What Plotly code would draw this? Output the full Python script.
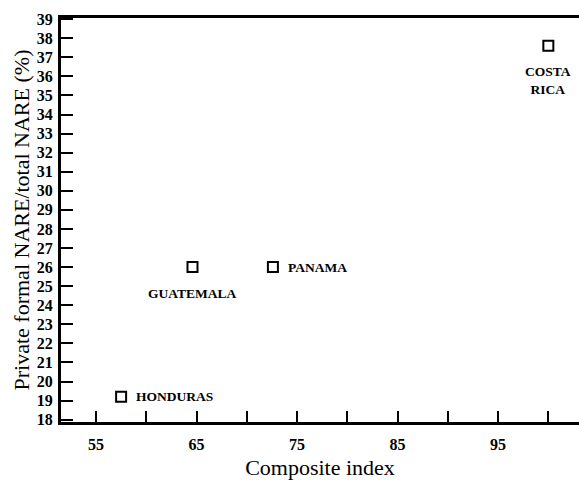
import plotly.graph_objects as go

countries = ["HONDURAS", "GUATEMALA", "PANAMA", "COSTA<br>RICA"]
composite_index = [57.5, 64.6, 72.6, 100.0]
private_share = [19.2, 26.0, 26.0, 37.6]

x_tickvals = [55, 60, 65, 70, 75, 80, 85, 90, 95, 100]
x_ticktext = ["55", "", "65", "", "75", "", "85", "", "95", ""]
y_tickvals = list(range(18, 40))
y_ticktext = [str(v) for v in y_tickvals]

label_style = {
    "HONDURAS": dict(xanchor="left", yanchor="middle", xshift=13, yshift=0),
    "GUATEMALA": dict(xanchor="center", yanchor="middle", xshift=0, yshift=-26),
    "PANAMA": dict(xanchor="left", yanchor="middle", xshift=13, yshift=0),
    "COSTA<br>RICA": dict(xanchor="center", yanchor="middle", xshift=0, yshift=-35),
}

FONT = "'Liberation Serif', 'Times New Roman', Times, serif"

fig = go.Figure()
fig.add_trace(go.Scatter(
    x=composite_index, y=private_share, mode="markers",
    marker=dict(symbol="square-open", size=10, color="black", line=dict(width=2, color="black")),
    showlegend=False, hoverinfo="skip",
))

for c, xv, yv in zip(countries, composite_index, private_share):
    fig.add_annotation(x=xv, y=yv, text=c, showarrow=False,
                       font=dict(family=FONT, size=13.5, color="black", weight="bold"),
                       **label_style[c])

fig.update_layout(
    width=579, height=480,
    margin=dict(l=61, r=0, t=18, b=58),
    paper_bgcolor="white", plot_bgcolor="white",
    font=dict(family=FONT, color="black"),
    xaxis=dict(
        range=[51.52, 103.05], tickvals=x_tickvals, ticktext=x_ticktext,
        ticks="inside", ticklen=11, tickwidth=2, tickcolor="black",
        showline=True, linewidth=3, linecolor="black", mirror=True,
        showgrid=False, zeroline=False,
        tickfont=dict(family=FONT, size=16, color="black", weight="bold"),
        ticklabelstandoff=6,
        title=dict(text="Composite index", font=dict(family=FONT, size=22, color="black"), standoff=8),
        automargin=False,
    ),
    yaxis=dict(
        range=[17.88, 39.06], tickvals=y_tickvals, ticktext=y_ticktext,
        ticks="inside", ticklen=12, tickwidth=2, tickcolor="black",
        showline=True, linewidth=3, linecolor="black",
        showgrid=False, zeroline=False,
        tickfont=dict(family=FONT, size=16, color="black", weight="bold"),
        ticklabelstandoff=2,
        title=dict(text="Private formal NARE/total NARE (%)", font=dict(family=FONT, size=22, color="black"), standoff=2),
        automargin=False,
    ),
)

fig.write_html("out.html", config={"displayModeBar": False},
               post_script="document.body.style.margin='0';document.body.style.overflow='hidden';")
